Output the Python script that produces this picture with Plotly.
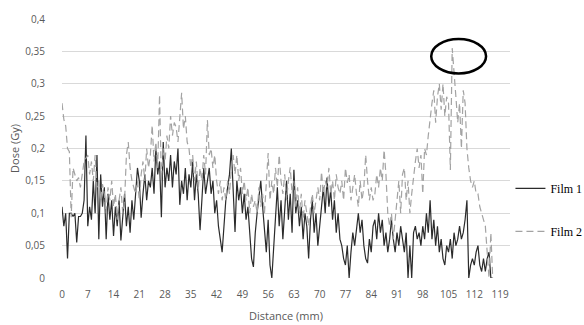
import numpy as np
import plotly.graph_objects as go

# distance step 0.5 mm, 0 .. 117 mm
distance_mm = np.arange(0, 117.5, 0.5)

film1 = [
    0.11, 0.08, 0.10, 0.03, 0.10, 0.10, 0.095, 0.10, 0.055, 0.095,
    0.095, 0.10, 0.12, 0.22, 0.08, 0.11, 0.09, 0.15, 0.10, 0.19,
    0.06, 0.16, 0.11, 0.14, 0.06, 0.13, 0.09, 0.12, 0.065, 0.11,
    0.08, 0.12, 0.058, 0.10, 0.13, 0.08, 0.11, 0.07, 0.12, 0.09,
    0.13, 0.17, 0.15, 0.093, 0.13, 0.16, 0.12, 0.15, 0.14, 0.17,
    0.13, 0.20, 0.16, 0.18, 0.094, 0.21, 0.14, 0.17, 0.15, 0.19,
    0.14, 0.18, 0.16, 0.20, 0.113, 0.15, 0.13, 0.17, 0.12, 0.16,
    0.14, 0.18, 0.12, 0.16, 0.13, 0.074, 0.12, 0.17, 0.13, 0.15,
    0.17, 0.13, 0.15, 0.10, 0.12, 0.08, 0.06, 0.04, 0.08, 0.12,
    0.14, 0.16, 0.20, 0.13, 0.071, 0.15, 0.12, 0.14, 0.10, 0.13,
    0.09, 0.11, 0.06, 0.03, 0.017, 0.07, 0.10, 0.13, 0.15, 0.11,
    0.07, 0.04, 0.09, 0.02, 0.00, 0.05, 0.10, 0.14, 0.08, 0.12,
    0.06, 0.11, 0.15, 0.09, 0.13, 0.07, 0.167, 0.10, 0.12, 0.08,
    0.11, 0.06, 0.10, 0.08, 0.03, 0.09, 0.12, 0.07, 0.10, 0.05,
    0.08, 0.12, 0.14, 0.10, 0.155, 0.11, 0.136, 0.09, 0.12, 0.07,
    0.10, 0.06, 0.05, 0.03, 0.02, 0.05, 0.00, 0.04, 0.07, 0.05,
    0.08, 0.10, 0.07, 0.09, 0.05, 0.03, 0.023, 0.06, 0.04, 0.08,
    0.09, 0.06, 0.10, 0.07, 0.09, 0.05, 0.07, 0.04, 0.06, 0.09,
    0.06, 0.04, 0.07, 0.05, 0.08, 0.06, 0.04, 0.07, 0.00, 0.05,
    0.00, 0.07, 0.08, 0.06, 0.07, 0.05, 0.08, 0.06, 0.10, 0.07,
    0.12, 0.06, 0.09, 0.05, 0.08, 0.04, 0.06, 0.03, 0.02, 0.05,
    0.04, 0.06, 0.03, 0.07, 0.05, 0.06, 0.08, 0.06, 0.07, 0.09,
    0.12, 0.00, 0.02, 0.03, 0.02, 0.04, 0.05, 0.02, 0.01, 0.03,
    0.01, 0.03, 0.04, 0.00, 0.00,
]

film2 = [
    0.27, 0.245, 0.235, 0.20, 0.195, 0.094, 0.17, 0.16, 0.15, 0.155,
    0.14, 0.16, 0.18, 0.185, 0.19, 0.16, 0.18, 0.15, 0.19, 0.14,
    0.15, 0.12, 0.145, 0.13, 0.10, 0.14, 0.12, 0.15, 0.11, 0.13,
    0.09, 0.12, 0.14, 0.10, 0.12, 0.19, 0.21, 0.17, 0.15, 0.14,
    0.13, 0.15, 0.12, 0.16, 0.18, 0.15, 0.20, 0.17, 0.19, 0.236,
    0.18, 0.21, 0.17, 0.283, 0.15, 0.20, 0.18, 0.22, 0.20, 0.25,
    0.22, 0.24, 0.233, 0.21, 0.25, 0.286, 0.23, 0.25, 0.21, 0.20,
    0.17, 0.19, 0.15, 0.18, 0.136, 0.17, 0.15, 0.19, 0.16, 0.244,
    0.19, 0.20, 0.17, 0.19, 0.15, 0.13, 0.15, 0.12, 0.14, 0.12,
    0.15, 0.13, 0.17, 0.19, 0.16, 0.19, 0.15, 0.17, 0.13, 0.15,
    0.12, 0.14, 0.10, 0.13, 0.11, 0.12, 0.10, 0.14, 0.11, 0.13,
    0.10, 0.14, 0.193, 0.12, 0.15, 0.13, 0.17, 0.14, 0.19, 0.15,
    0.13, 0.16, 0.12, 0.15, 0.171, 0.13, 0.15, 0.11, 0.14, 0.10,
    0.13, 0.09, 0.12, 0.10, 0.08, 0.11, 0.13, 0.10, 0.12, 0.14,
    0.12, 0.164, 0.13, 0.15, 0.14, 0.17, 0.13, 0.15, 0.12, 0.16,
    0.14, 0.13, 0.15, 0.12, 0.17, 0.147, 0.16, 0.12, 0.14, 0.16,
    0.13, 0.11, 0.15, 0.12, 0.14, 0.19, 0.15, 0.12, 0.14, 0.12,
    0.13, 0.16, 0.14, 0.17, 0.15, 0.198, 0.16, 0.10, 0.08, 0.10,
    0.06, 0.09, 0.12, 0.15, 0.10, 0.16, 0.17, 0.12, 0.15, 0.10,
    0.13, 0.16, 0.18, 0.20, 0.17, 0.19, 0.13, 0.20, 0.19, 0.22,
    0.25, 0.27, 0.29, 0.24, 0.28, 0.30, 0.26, 0.30, 0.25, 0.28,
    0.27, 0.167, 0.355, 0.31, 0.28, 0.24, 0.27, 0.20, 0.29, 0.27,
    0.20, 0.17, 0.15, 0.14, 0.15, 0.13, 0.13, 0.11, 0.10, 0.09,
    0.08, 0.04, 0.00, 0.07, 0.00,
]

x_tick_vals = [0, 7, 14, 21, 28, 35, 42, 49, 56, 63, 70, 77, 84, 91, 98, 105, 112, 119]
y_tick_vals = [0, 0.05, 0.1, 0.15, 0.2, 0.25, 0.3, 0.35, 0.4]
y_tick_text = ["0", "0,05", "0,1", "0,15", "0,2", "0,25", "0,3", "0,35", "0,4"]

# highlight ellipse around the Film 2 peak (data units)
ellipse_x = [100.3, 115.2]
ellipse_y = [0.316, 0.369]

tick_font = dict(family="Open Sans, DejaVu Sans, sans-serif", size=10, color="#595959")
title_font = dict(family="Open Sans, DejaVu Sans, sans-serif", size=11, color="#595959")

fig = go.Figure()
fig.add_trace(go.Scatter(
    x=distance_mm, y=film1, mode="lines", name="Film 1", legendgroup="f1",
    line=dict(color="#2b2b2b", width=1.2),
))
fig.add_trace(go.Scatter(
    x=distance_mm, y=film2, mode="lines", name="Film 2", legendgroup="f2",
    line=dict(color="#a3a3a3", width=1.2, dash="7px,4px"),
))

fig.add_shape(type="circle", xref="x", yref="y",
              x0=ellipse_x[0], x1=ellipse_x[1], y0=ellipse_y[0], y1=ellipse_y[1],
              line=dict(color="black", width=2.5))

fig.update_layout(
    width=584, height=325,
    margin=dict(l=62, r=74, t=19, b=47, autoexpand=False),
    paper_bgcolor="white", plot_bgcolor="white",
    showlegend=True,
    legend=dict(
        x=1.001, xanchor="left", y=0.263, yanchor="middle",
        font=dict(family="Liberation Serif, Times New Roman, serif", size=12, color="black"),
        tracegroupgap=24, bgcolor="rgba(0,0,0,0)", borderwidth=0,
    ),
    xaxis=dict(
        range=[0, 121.7], tickmode="array", tickvals=x_tick_vals,
        showgrid=False, zeroline=False, showline=False, ticks="",
        tickfont=tick_font, ticklabelstandoff=9,
        title=dict(text="Distance (mm)", font=title_font, standoff=12),
    ),
    yaxis=dict(
        range=[0, 0.4], tickmode="array", tickvals=y_tick_vals, ticktext=y_tick_text,
        showgrid=True, gridcolor="#d9d9d9", gridwidth=1, zeroline=False, showline=False,
        ticks="", tickfont=tick_font, ticklabelstandoff=16,
        title=dict(text="Dose (Gy)", font=title_font, standoff=3),
    ),
)

fig.write_html("out.html")
